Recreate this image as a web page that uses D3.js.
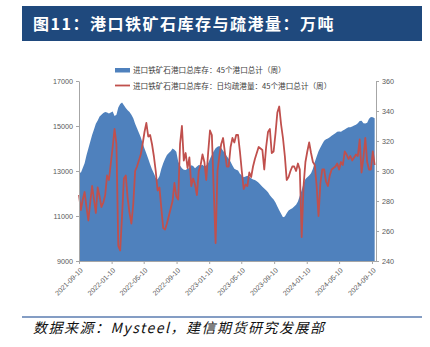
<!DOCTYPE html>
<html>
<head>
<meta charset="utf-8">
<script src="https://cdn.jsdelivr.net/npm/d3@7"></script>
<style>
  html, body { margin: 0; padding: 0; background: #fff; }
  svg { display: block; }
</style>
</head>
<body>
<script>
// ---------------- DATA ----------------
const titleText = "图11：港口铁矿石库存与疏港量：万吨";
const sourceText = "数据来源：Mysteel，建信期货研究发展部";
const seriesNames = [
  "进口铁矿石港口总库存：45个港口总计（周）",
  "进口铁矿石港口总库存：日均疏港量：45个港口总计（周）"
];
const startDate = "2021-09-10"; // weekly observations (Fridays)
const xTickLabels = ["2021-09-10","2022-01-10","2022-05-10","2022-09-10","2023-01-10",
                     "2023-05-10","2023-09-10","2024-01-10","2024-05-10","2024-09-10"];
const leftTicks = [9000, 11000, 13000, 15000, 17000];
const rightTicks = [240, 260, 280, 300, 320, 340, 360];

// Port inventory, 10k tonnes (left axis)
const inventory = [
12970,12920,13130,13350,13700,14000,14300,14600,14850,15100,
15250,15420,15500,15580,15620,15600,15560,15600,15640,15450,
15500,15820,15980,16040,15920,15800,15700,15620,15500,15350,
15100,14900,14700,14500,14250,14000,13780,13550,13300,13080,
12900,12700,12620,12780,13100,13340,13550,13710,13800,13880,
14000,13950,13860,13420,13250,13120,13060,13040,13100,13130,
13260,13220,13120,13200,13270,13250,13280,13200,13250,13340,
13550,13720,13880,14010,14080,14110,14020,13900,13790,13660,
13550,13410,13250,13100,13060,13020,12880,12800,12720,12760,
12790,12740,12680,12620,12600,12540,12480,12390,12300,12220,
12150,12060,11920,11820,11730,11600,11420,11260,11100,10950,
10980,11120,11250,11300,11340,11420,11500,11650,11900,12150,
12450,12650,12720,12800,12900,13100,13400,13650,13880,14050,
14200,14340,14410,14450,14500,14570,14620,14680,14740,14760,
14740,14800,14850,14900,14940,14950,14980,15020,15060,15120,
15220,15230,15120,15110,15150,15320,15400,15390,15340];

// Daily average port clearance, 10k tonnes (right axis)
const clearance = [
284,274,281,286,276,267,279,290,281,272,
289,283,276,279,284,297,294,305,316,328,
318,250,247,270,295,297,282,272,265,278,
300,303,307,311,318,326,332,323,324,318,
310,300,287,289,275,262,261,265,270,275,
280,292,283,281,318,330,307,312,302,309,
290,295,291,284,300,304,311,306,294,312,
327,324,287,252,300,310,318,322,312,303,
303,316,322,319,324,324,313,300,288,291,
290,299,296,303,308,312,316,315,314,301,
316,326,328,312,313,325,339,343,331,322,
310,294,296,300,303,303,300,305,301,256,
290,306,313,319,312,306,304,290,270,292,
301,301,293,290,297,301,302,303,305,301,
306,304,313,311,308,310,307,309,311,310,
321,299,309,322,306,301,301,313,304];

// ---------------- CHART ----------------
const W = 430, H = 347;
const parse = d3.utcParse("%Y-%m-%d");
const fmt = d3.utcFormat("%Y-%m-%d");
const t0 = parse(startDate);
const dates = inventory.map((_, i) => d3.utcDay.offset(t0, 7 * i));

const svg = d3.select("body").append("svg").attr("width", W).attr("height", H);

// Title bar
svg.append("rect").attr("x", 22).attr("y", 6).attr("width", 400).attr("height", 35).attr("fill", "#1F497D");
svg.append("text").attr("x", 33).attr("y", 29.5)
  .attr("fill", "#fff").attr("font-size", 16).attr("font-weight", "bold")
  .attr("letter-spacing", "1.5px")
  .attr("font-family", "'Noto Sans CJK SC', sans-serif")
  .text(titleText);

const plot = { left: 79, right: 376, top: 81, bottom: 261 };
const x = d3.scaleUtc().domain([t0, parse("2024-09-25")]).range([plot.left, plot.right]);
const yL = d3.scaleLinear().domain([9000, 17000]).range([plot.bottom, plot.top]);
const yR = d3.scaleLinear().domain([240, 360]).range([plot.bottom, plot.top]);

// Area (inventory)
const area = d3.area()
  .x((d, i) => x(dates[i]))
  .y0(yL(9000))
  .y1(d => yL(d));
svg.append("path").datum(inventory).attr("d", area).attr("fill", "#4F81BD");

// Line (clearance)
const line = d3.line()
  .x((d, i) => x(dates[i]))
  .y(d => yR(d));
svg.append("path").datum(clearance).attr("d", line)
  .attr("fill", "none").attr("stroke", "#C0504D").attr("stroke-width", 1.8)
  .attr("stroke-linejoin", "round");

const axisColor = "#A6A6A6";
const tickFont = "'Liberation Sans', Arial, sans-serif";
function styleAxis(g) {
  g.select(".domain").attr("stroke", axisColor);
  g.selectAll(".tick line").attr("stroke", axisColor);
  g.selectAll(".tick text").attr("fill", "#595959").attr("font-size", 7.2).attr("font-family", tickFont);
}

// Left axis
const gL = svg.append("g").attr("transform", `translate(${plot.left},0)`)
  .call(d3.axisLeft(yL).tickValues(leftTicks).tickSize(3).tickSizeOuter(0).tickPadding(3).tickFormat(d3.format("d")));
styleAxis(gL);

// Right axis
const gR = svg.append("g").attr("transform", `translate(${plot.right},0)`)
  .call(d3.axisRight(yR).tickValues(rightTicks).tickSize(3).tickSizeOuter(0).tickPadding(3).tickFormat(d3.format("d")));
styleAxis(gR);

// Bottom axis
const gX = svg.append("g").attr("transform", `translate(0,${plot.bottom})`)
  .call(d3.axisBottom(x).tickValues(xTickLabels.map(parse)).tickSize(3).tickSizeOuter(0).tickFormat(fmt));
styleAxis(gX);
gX.selectAll(".tick text")
  .attr("x", 0).attr("y", 0).attr("dy", "0.35em")
  .attr("text-anchor", "end")
  .attr("font-size", 7)
  .attr("transform", "translate(2,8) rotate(-45)");

// Legend
const legFont = "'Noto Sans CJK SC', sans-serif";
svg.append("rect").attr("x", 115).attr("y", 68).attr("width", 15).attr("height", 4.5).attr("fill", "#4F81BD");
svg.append("text").attr("x", 133).attr("y", 70.5).attr("dy", "0.35em")
  .attr("font-size", 7.6).attr("fill", "#404040").attr("font-family", legFont).text(seriesNames[0]);
svg.append("line").attr("x1", 115).attr("x2", 130).attr("y1", 85.5).attr("y2", 85.5)
  .attr("stroke", "#C0504D").attr("stroke-width", 1.8);
svg.append("text").attr("x", 133).attr("y", 86).attr("dy", "0.35em")
  .attr("font-size", 7.6).attr("fill", "#404040").attr("font-family", legFont).text(seriesNames[1]);

// Footer
svg.append("line").attr("x1", 22).attr("x2", 422).attr("y1", 317).attr("y2", 317)
  .attr("stroke", "#5B7DB1").attr("stroke-width", 1.5);
svg.append("text").attr("x", 33).attr("y", 333)
  .attr("font-size", 14).attr("font-style", "italic").attr("fill", "#111")
  .attr("letter-spacing", "1.5px")
  .attr("font-family", "'Noto Sans CJK SC', sans-serif")
  .text(sourceText);
</script>
</body>
</html>
